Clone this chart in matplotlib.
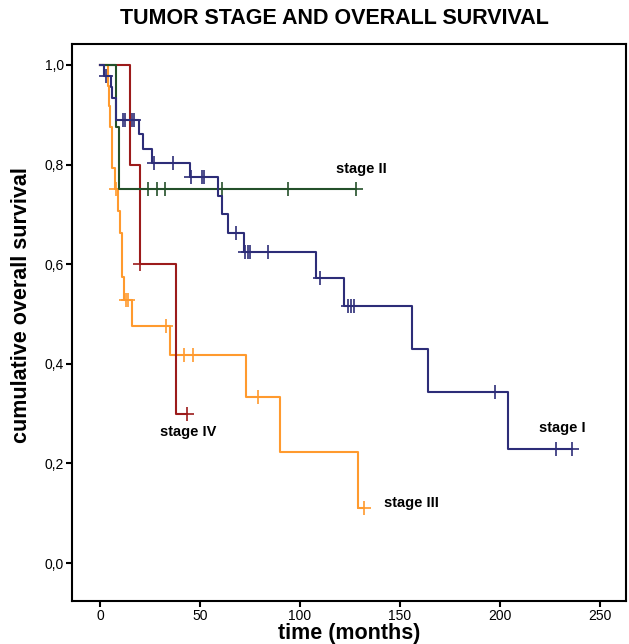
import numpy as np
import matplotlib.pyplot as plt

plt.rcParams['font.family'] = ['Liberation Sans', 'DejaVu Sans']

# step curves: time of each drop and survival after it, plus the last follow-up time
stage1_t = [0, 2.2, 5.5, 6, 8, 19.5, 21.3, 26, 45, 59, 61, 64, 72, 108, 122, 156, 164, 204]
stage1_s = [1.0, 0.978, 0.956, 0.933, 0.889, 0.861, 0.832, 0.804, 0.774, 0.737, 0.70, 0.663,
            0.624, 0.573, 0.516, 0.43, 0.344, 0.229]
stage1_end = 236
stage1_cens = [3, 11.3, 12.4, 16, 17.2, 27, 36.3, 45.5, 50.8, 52.2, 68, 72.6, 73.8, 75, 84,
               110, 124.2, 125.6, 127, 197.7, 228, 236]

stage2_t = [0, 8, 9.5]
stage2_s = [1.0, 0.875, 0.75]
stage2_end = 128
stage2_cens = [24.2, 28.3, 32.5, 61, 94.2, 128]

stage3_t = [0, 3.8, 4.5, 5.2, 5.8, 6.2, 7.5, 8.8, 10, 10.8, 12, 15.8, 35, 73, 90, 129]
stage3_s = [1.0, 0.958, 0.917, 0.875, 0.833, 0.792, 0.75, 0.706, 0.662, 0.574, 0.529,
            0.476, 0.417, 0.333, 0.222, 0.111]
stage3_end = 132
stage3_cens = [8, 13, 14.2, 33, 42, 46.3, 79, 132]

stage4_t = [0, 15, 20, 38]
stage4_s = [1.0, 0.8, 0.6, 0.3]
stage4_end = 43.3
stage4_cens = [20, 43.3]

labels = ['stage I', 'stage II', 'stage III', 'stage IV']
label_pos = [(231, 0.271), (130.5, 0.79), (156, 0.12), (44, 0.263)]
colors = ['#2d2d78', '#24502a', '#ff9a2e', '#9c1b1b']

fig = plt.figure(figsize=(6.29, 6.44), dpi=100)
ax = fig.add_axes([0.1145, 0.0668, 0.8805, 0.865])

curves = [
    (stage3_t, stage3_s, stage3_end, stage3_cens, colors[2]),
    (stage4_t, stage4_s, stage4_end, stage4_cens, colors[3]),
    (stage2_t, stage2_s, stage2_end, stage2_cens, colors[1]),
    (stage1_t, stage1_s, stage1_end, stage1_cens, colors[0]),
]
for t, s, end, cens, c in curves:
    x = list(t) + [end]
    y = list(s) + [s[-1]]
    ax.step(x, y, where='post', color=c, lw=1.5)
    idx = np.searchsorted(t, cens, side='right') - 1
    ax.plot(cens, np.array(s)[idx], ls='none', marker='+', ms=10, mew=1.2, color=c)

for lab, (lx, ly) in zip(labels, label_pos):
    ax.text(lx, ly, lab, fontsize=10.5, fontweight='bold', ha='center', va='center')

ax.set_xlim(-14, 263)
ax.set_ylim(-0.076, 1.042)
ax.set_xticks([0, 50, 100, 150, 200, 250])
ax.set_yticks([0, 0.2, 0.4, 0.6, 0.8, 1.0])
ax.set_yticklabels(['0,0', '0,2', '0,4', '0,6', '0,8', '1,0'])
ax.tick_params(direction='out', length=4, width=1.5, pad=2, labelsize=10)
for sp in ax.spines.values():
    sp.set_linewidth(1.5)

ax.set_xlabel('time (months)', fontsize=15.5, fontweight='bold', labelpad=0)
ax.set_ylabel('cumulative overall survival', fontsize=15.5, fontweight='bold')
ax.yaxis.set_label_coords(-0.072, 0.531)
fig.text(0.531, 0.972, 'TUMOR STAGE AND OVERALL SURVIVAL', fontsize=15.5,
         fontweight='bold', ha='center', va='center')

fig.savefig('out.png', dpi=100)
